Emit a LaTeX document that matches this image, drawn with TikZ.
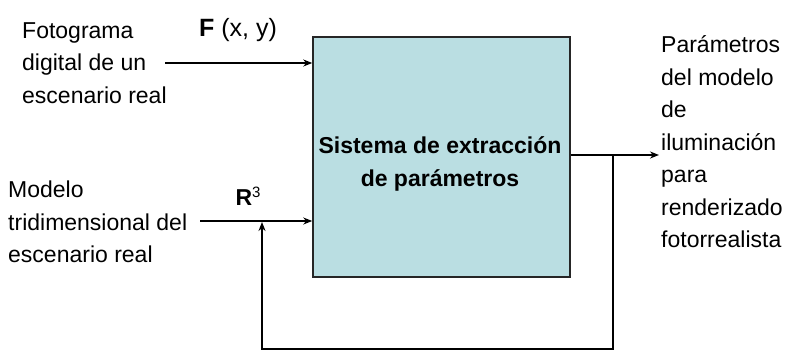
\documentclass[tikz,border=0pt]{standalone}
\usepackage{fontspec}
\setmainfont{Liberation Sans}
\usetikzlibrary{arrows.meta}
\definecolor{boxblue}{RGB}{186,222,226}
\begin{document}
\begin{tikzpicture}[x=1pt,y=-1pt,
  txt/.style={font=\fontsize{23}{32.5}\selectfont, align=left, inner sep=0pt},
  arr/.style={line width=2pt, -{Stealth[length=9pt,width=7pt]}},
  sysbox/.style={draw=black!85, line width=1.5pt, fill=boxblue, minimum width=257pt, minimum height=240pt, inner sep=0pt}]
\useasboundingbox (0,0) rectangle (787,351);
\fill[white] (0,0) rectangle (787,351);
% main block
\node[sysbox] (sys) at (441.5,157) {};
\node[txt, font=\bfseries\fontsize{23}{32.5}\selectfont, align=center] (syslabel) at (440,164) {Sistema de extracción\\de parámetros};
% inputs
\node[txt, anchor=west] (in1) at (22,63) {Fotograma\\digital de un\\escenario real};
\node[txt, anchor=west] (in2) at (8,222) {Modelo\\tridimensional del\\escenario real};
\node[txt, font=\fontsize{25}{30}\selectfont] (lblF) at (238,30) {\textbf{F} (x, y)};
\node[txt] (lblR) at (248,196) {\textbf{R}\raisebox{8pt}{\fontsize{15}{15}\selectfont 3}};
% output
\node[txt, anchor=west] (out) at (661,142) {Parámetros\\del modelo\\de\\iluminación\\para\\renderizado\\fotorrealista};
% connectors
\coordinate (a1) at (165,63);
\draw[arr] (a1) -- (a1 -| sys.west);
\coordinate (a2) at (200,221);
\draw[arr] (a2) -- (a2 -| sys.west);
\coordinate (oend) at (659,155);
\draw[arr] (oend -| sys.east) -- (oend);
\coordinate (fb) at (613,155);
\coordinate (fbb) at (262,349);
\coordinate (fbin) at (262,222);
\draw[arr] (fb) |- (fbb) -- (fbin);
\end{tikzpicture}
\end{document}
